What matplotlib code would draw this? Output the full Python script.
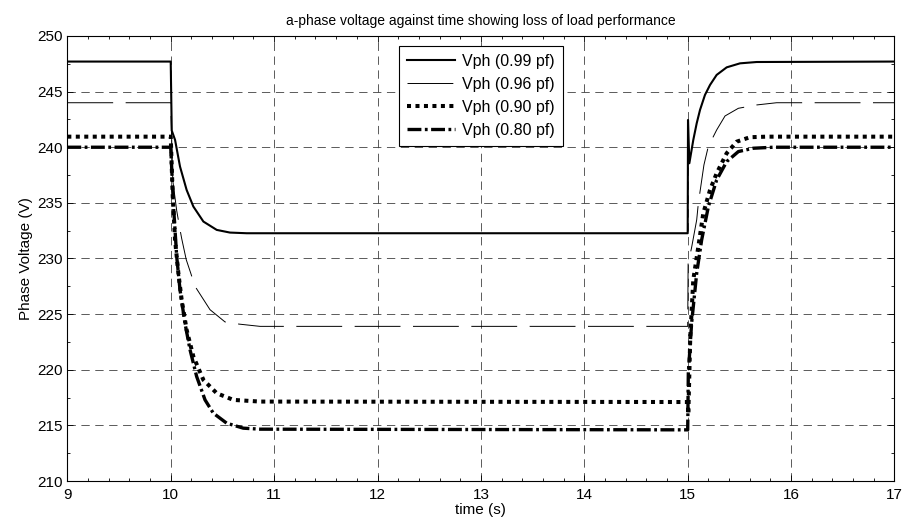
import numpy as np
import matplotlib
matplotlib.use('Agg')
import matplotlib.pyplot as plt
from matplotlib.ticker import MultipleLocator

plt.rcParams['font.family'] = ['Liberation Sans', 'DejaVu Sans']
plt.rcParams['font.size'] = 11
plt.rcParams['lines.scale_dashes'] = False

# a-phase voltage, time in s, voltage in V
t_99 = [9, 10.0, 10.01, 10.042, 10.09, 10.154, 10.219, 10.316, 10.445, 10.573, 10.735,
        15.0, 15.003, 15.016, 15.054, 15.087, 15.119, 15.167, 15.216, 15.28, 15.377,
        15.506, 15.667, 17]
v_99 = [247.7, 247.7, 241.5, 240.66, 238.26, 236.16, 234.67, 233.32, 232.57, 232.33, 232.27,
        232.27, 242.45, 238.56, 240.65, 242.15, 243.35, 244.7, 245.6, 246.5, 247.18,
        247.54, 247.66, 247.7]

t_96 = [9, 10.0, 10.02, 10.058, 10.09, 10.106, 10.15, 10.193, 10.235, 10.38, 10.525, 10.664,
        10.864, 15.0, 15.004, 15.038, 15.087, 15.103, 15.157, 15.199, 15.28, 15.361, 15.49,
        15.667, 15.86, 17]
v_96 = [244.0, 244.0, 237.0, 234.3, 232.6, 231.8, 229.9, 228.7, 227.5, 225.4, 224.3, 224.1,
        223.9, 223.9, 229.5, 231.0, 233.47, 234.97, 238.41, 240.06, 241.55, 242.81, 243.5,
        243.8, 244.0, 244.0]

t_90 = [9, 10.0, 10.02, 10.042, 10.074, 10.106, 10.154, 10.219, 10.316, 10.445, 10.606, 10.864,
        15.0, 15.006, 15.025, 15.054, 15.103, 15.151, 15.216, 15.28, 15.377, 15.474, 15.602,
        15.764, 17]
v_90 = [240.95, 240.95, 235.5, 231.67, 228.68, 226.28, 223.58, 221.19, 219.09, 217.89, 217.29,
        217.14, 217.1, 216.0, 223.0, 228.08, 231.07, 234.07, 236.16, 237.66, 239.46, 240.5,
        240.9, 240.95, 240.95]

t_80 = [9, 10.0, 10.025, 10.058, 10.09, 10.138, 10.187, 10.251, 10.332, 10.412, 10.541, 10.702,
        10.864, 14.99, 15.0, 15.006, 15.038, 15.087, 15.135, 15.2, 15.28, 15.377, 15.49, 15.635,
        15.828, 17]
v_80 = [240.0, 240.0, 235.0, 230.17, 227.18, 224.18, 221.79, 219.39, 217.29, 216.10, 215.2,
        214.75, 214.66, 214.6, 214.6, 219.7, 224.2, 228.68, 231.67, 234.67, 237.06, 238.71,
        239.61, 239.91, 240.0, 240.0]

labels = ['Vph (0.99 pf)', 'Vph (0.96 pf)', 'Vph (0.90 pf)', 'Vph (0.80 pf)']

fig = plt.figure(figsize=(9.06, 5.29), dpi=100)
ax = fig.add_axes([0.0743, 0.0907, 0.913, 0.8413])

ax.plot(t_99, v_99, color='k', lw=1.5, label=labels[0])
ax.plot(t_96, v_96, color='k', lw=0.7, dashes=(33, 9), label=labels[1])
ax.plot(t_90, v_90, color='k', lw=2.9, dashes=(2.9, 3.2), label=labels[2])
ax.plot(t_80, v_80, color='k', lw=2.4, dashes=(10, 2.5, 2, 2.5), label=labels[3])

ax.set_xlim(9, 17)
ax.set_ylim(210, 250)
ax.xaxis.set_major_locator(MultipleLocator(1))
ax.xaxis.set_minor_locator(MultipleLocator(0.2))
ax.yaxis.set_major_locator(MultipleLocator(5))
ax.yaxis.set_minor_locator(MultipleLocator(2.5))
ax.tick_params(which='both', direction='in', top=True, right=True, width=0.6)
ax.tick_params(which='major', length=4, labelsize=11)
ax.tick_params(which='minor', length=2.5)
ax.tick_params(axis='x', pad=5)
ax.grid(True, which='major', color='#404040', lw=0.6, dashes=(6, 4))
for s in ax.spines.values():
    s.set_linewidth(0.8)

ax.set_title('a-phase voltage against time showing loss of load performance', fontsize=10, pad=8)
ax.set_xlabel('time (s)', labelpad=1)
ax.set_ylabel('Phase Voltage (V)', labelpad=3)

leg = ax.legend(loc='upper left', bbox_to_anchor=(0.401, 0.9775), borderaxespad=0,
                fontsize=11.5, handlelength=3.0, handletextpad=0.45, labelspacing=0.5,
                fancybox=False, framealpha=1, edgecolor='k', borderpad=0.5)
leg.get_frame().set_linewidth(0.8)

plt.savefig('out.png', dpi=100)
